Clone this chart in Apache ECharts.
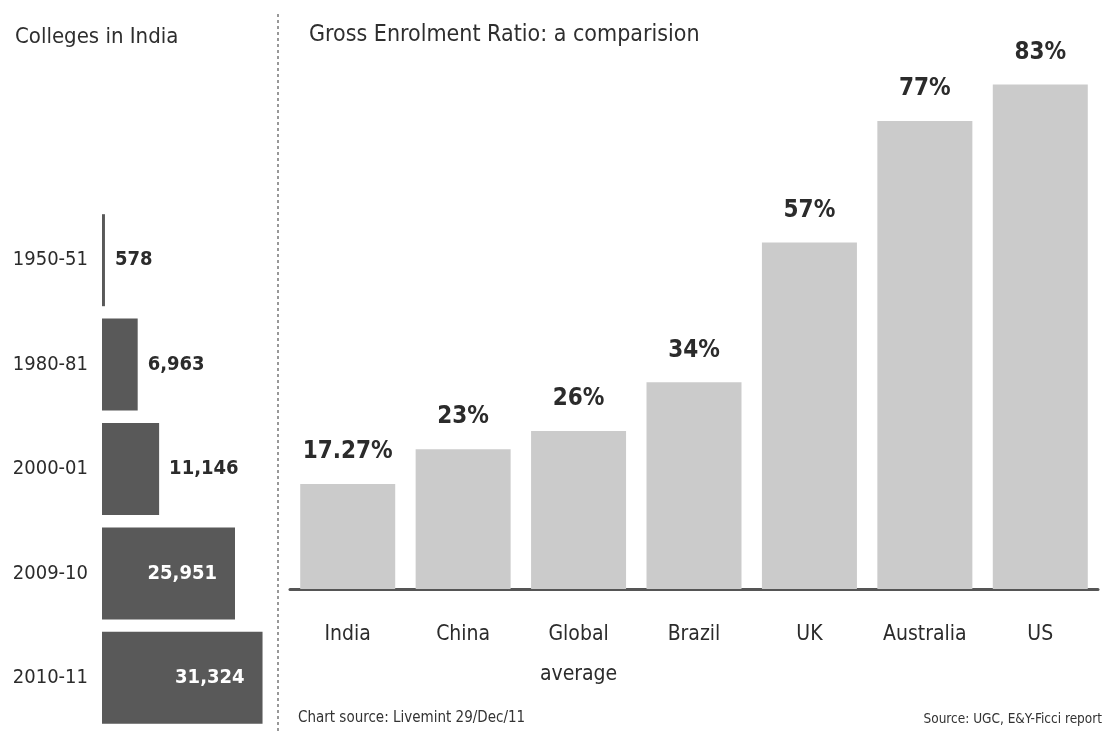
<!DOCTYPE html>
<html>
<head>
<meta charset="utf-8">
<script src="https://cdn.jsdelivr.net/npm/echarts@6/dist/echarts.min.js"></script>
<style>
  html, body { margin: 0; padding: 0; background: #fff; }
  #chart { width: 1108px; height: 732px; }
</style>
</head>
<body>
<div id="chart"></div>
<script>
// 左图：印度高校数量
const years = ['1950-51', '1980-81', '2000-01', '2009-10', '2010-11'];
const colleges = [578, 6963, 11146, 25951, 31324];

// 右图：毛入学率
const countries = ['India', 'China', 'Global\naverage', 'Brazil', 'UK', 'Australia', 'US'];
const ratios = [17.27, 23, 26, 34, 57, 77, 83];

const FONT = '"Liberation Sans Narrow", "DejaVu Sans Condensed", "Liberation Sans", sans-serif';
const TEXT = '#2b2b2b';

const chart = echarts.init(document.getElementById('chart'));

// 大数字放在柱子里面（白字），小的放在右边
const collegeData = colleges.map(function (v) {
  const inside = v > 20000;
  return {
    value: v,
    label: {
      position: inside ? 'insideRight' : 'right',
      distance: inside ? 18 : 10,
      color: inside ? '#fff' : TEXT
    }
  };
});

const option = {
  backgroundColor: '#fff',
  animation: false,
  title: [
    {
      text: 'Colleges in India',
      left: 10, top: 21,
      textStyle: { fontFamily: FONT, fontSize: 22, fontWeight: 'normal', color: '#2e2e2e' }
    },
    {
      text: 'Gross Enrolment Ratio: a comparision',
      left: 304, top: 19,
      textStyle: { fontFamily: FONT, fontSize: 23, fontWeight: 'normal', color: '#2e2e2e' }
    }
  ],
  grid: [
    { left: 102, width: 164, top: 208, height: 522, outerBoundsMode: 'none' },
    { left: 290, right: 10, top: 42, bottom: 143, outerBoundsMode: 'none' }
  ],
  xAxis: [
    {
      gridIndex: 0,
      type: 'value',
      min: 0,
      max: 32000,
      show: false
    },
    {
      gridIndex: 1,
      type: 'category',
      data: countries,
      axisTick: { show: false },
      axisLine: { show: true, lineStyle: { color: '#555', width: 3 } },
      axisLabel: {
        interval: 0,
        fontFamily: FONT,
        fontSize: 21,
        color: TEXT,
        margin: 26,
        lineHeight: 40,
        verticalAlign: 'top'
      }
    }
  ],
  yAxis: [
    {
      gridIndex: 0,
      type: 'category',
      data: years,
      inverse: true,
      axisLine: { show: false },
      axisTick: { show: false },
      axisLabel: { interval: 0, fontFamily: FONT, fontSize: 20, color: TEXT, margin: 14 }
    },
    {
      gridIndex: 1,
      type: 'value',
      min: 0,
      max: 90,
      show: false,
      splitLine: { show: false }
    }
  ],
  series: [
    {
      name: 'Colleges',
      type: 'bar',
      xAxisIndex: 0,
      yAxisIndex: 0,
      barWidth: 92,
      data: collegeData,
      itemStyle: { color: '#595959' },
      label: {
        show: true,
        fontFamily: FONT,
        fontSize: 20,
        fontWeight: 'bold',
        formatter: function (p) { return p.value.toLocaleString('en-US'); }
      }
    },
    {
      name: 'GER',
      type: 'bar',
      xAxisIndex: 1,
      yAxisIndex: 1,
      barWidth: 95,
      data: ratios,
      itemStyle: { color: '#cbcbcb' },
      label: {
        show: true,
        position: 'top',
        distance: 20,
        fontFamily: FONT,
        fontSize: 24,
        fontWeight: 'bold',
        color: TEXT,
        formatter: '{c}%'
      }
    }
  ],
  graphic: [
    {
      type: 'line',
      shape: { x1: 278, y1: 14, x2: 278, y2: 732 },
      style: { stroke: '#777', lineWidth: 1.5, lineDash: [3, 3] }
    },
    {
      type: 'text',
      left: 298, top: 711,
      style: { text: 'Chart source: Livemint 29/Dec/11', fontFamily: FONT, fontSize: 15, fill: '#333' }
    },
    {
      type: 'text',
      right: 6, top: 712,
      style: { text: 'Source: UGC, E&Y-Ficci report', fontFamily: FONT, fontSize: 13.5, fill: '#333' }
    }
  ]
};

chart.setOption(option);
</script>
</body>
</html>
